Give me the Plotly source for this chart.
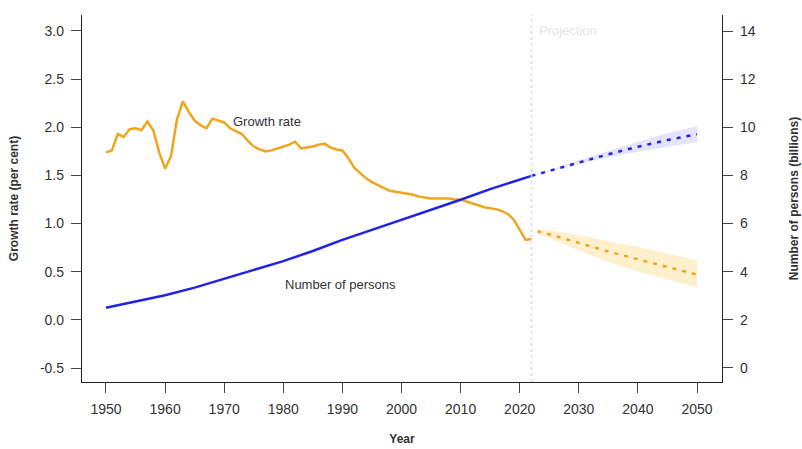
import plotly.graph_objects as go

# ---------------- data ----------------
years_hist = list(range(1950, 2023))
growth_hist = [1.74, 1.76, 1.93, 1.90, 1.98, 1.99, 1.97, 2.06, 1.97, 1.74,
               1.57, 1.70, 2.08, 2.27, 2.16, 2.07, 2.02, 1.99, 2.09, 2.07,
               2.05, 1.99, 1.96, 1.93, 1.86, 1.80, 1.77, 1.75, 1.76, 1.78,
               1.80, 1.82, 1.85, 1.78, 1.79, 1.80, 1.82, 1.83, 1.79, 1.77,
               1.76, 1.68, 1.58, 1.53, 1.47, 1.43, 1.40, 1.37, 1.34, 1.33,
               1.32, 1.31, 1.30, 1.28, 1.27, 1.26, 1.26, 1.26, 1.26, 1.25,
               1.25, 1.23, 1.21, 1.19, 1.17, 1.16, 1.15, 1.13, 1.10, 1.04,
               0.93, 0.83, 0.84]

years_proj_g = [2023, 2025, 2030, 2035, 2040, 2045, 2050]
growth_proj = [0.92, 0.89, 0.80, 0.71, 0.63, 0.55, 0.47]
growth_lo = [0.90, 0.85, 0.72, 0.60, 0.50, 0.42, 0.34]
growth_hi = [0.94, 0.93, 0.88, 0.82, 0.76, 0.69, 0.62]

years_pop = [1950, 1955, 1960, 1965, 1970, 1975, 1980, 1985, 1990, 1995,
             2000, 2005, 2010, 2015, 2020, 2022]
pop_hist = [2.50, 2.75, 3.02, 3.34, 3.70, 4.07, 4.44, 4.86, 5.32, 5.74,
            6.15, 6.56, 6.99, 7.43, 7.84, 7.98]

years_proj_p = [2022, 2025, 2030, 2035, 2040, 2045, 2050]
pop_proj = [7.98, 8.19, 8.55, 8.88, 9.19, 9.47, 9.71]
pop_lo = [7.98, 8.17, 8.47, 8.74, 8.98, 9.18, 9.38]
pop_hi = [7.98, 8.21, 8.63, 9.02, 9.40, 9.76, 10.04]

x_ticks = list(range(1950, 2051, 10))
y1_ticks = [-0.5, 0.0, 0.5, 1.0, 1.5, 2.0, 2.5, 3.0]
y2_ticks = [0, 2, 4, 6, 8, 10, 12, 14]
projection_start = 2022

ORANGE = "#F0A51E"
BLUE = "#2222E6"
FONT = "Liberation Sans, Arial, sans-serif"
TXT = "#333333"

fig = go.Figure()

# orange projection band
fig.add_trace(go.Scatter(x=years_proj_g + years_proj_g[::-1],
                         y=growth_hi + growth_lo[::-1], mode="none",
                         fill="toself", fillcolor="rgba(255,205,90,0.30)",
                         hoverinfo="skip", showlegend=False))
# blue projection band
fig.add_trace(go.Scatter(x=years_proj_p + years_proj_p[::-1],
                         y=pop_hi + pop_lo[::-1], yaxis="y2", mode="none",
                         fill="toself", fillcolor="rgba(120,120,255,0.20)",
                         hoverinfo="skip", showlegend=False))

fig.add_trace(go.Scatter(x=years_hist, y=growth_hist, mode="lines",
                         line=dict(color=ORANGE, width=2.5), showlegend=False))
fig.add_trace(go.Scatter(x=years_proj_g, y=growth_proj, mode="lines",
                         line=dict(color=ORANGE, width=2.5, dash="4px,6px"),
                         showlegend=False))
fig.add_trace(go.Scatter(x=years_pop, y=pop_hist, mode="lines", yaxis="y2",
                         line=dict(color=BLUE, width=2.5), showlegend=False))
fig.add_trace(go.Scatter(x=years_proj_p, y=pop_proj, mode="lines", yaxis="y2",
                         line=dict(color=BLUE, width=2.5, dash="4px,6px"),
                         showlegend=False))

fig.add_shape(type="line", xref="x", yref="paper", x0=projection_start,
              x1=projection_start, y0=0, y1=1,
              line=dict(color="#DDDDDD", width=1.5, dash="dot"))

fig.add_annotation(x=projection_start + 0.9, y=3.0, xref="x", yref="y",
                   text="Projection", showarrow=False, xanchor="left",
                   font=dict(family=FONT, size=13, color="#E6E6E6"))
fig.add_annotation(x=1977.3, y=2.06, xref="x", yref="y", text="Growth rate",
                   showarrow=False, font=dict(family=FONT, size=13, color=TXT))
fig.add_annotation(x=1989.6, y=0.37, xref="x", yref="y", text="Number of persons",
                   showarrow=False, font=dict(family=FONT, size=13, color=TXT))

axis_common = dict(showline=True, linecolor="#222222", linewidth=1.3,
                   ticks="outside", ticklen=10, tickcolor="#444444",
                   tickwidth=1.3, showgrid=False, zeroline=False,
                   ticklabelstandoff=4, automargin=False,
                   tickfont=dict(family=FONT, size=14, color=TXT))

fig.update_layout(
    width=802, height=449,
    margin=dict(l=82, r=80, t=15, b=67),
    paper_bgcolor="white", plot_bgcolor="white",
    xaxis=dict(range=[1945.94, 2054.23], tickvals=x_ticks,
               title=dict(text="<b>Year</b>", standoff=18,
                          font=dict(family=FONT, size=12, color=TXT)),
               **axis_common),
    yaxis=dict(range=[-0.645, 3.166], tickvals=y1_ticks,
               ticktext=[f"{v:.1f}" for v in y1_ticks],
               title=dict(text="<b>Growth rate (per cent)</b>", standoff=18,
                          font=dict(family=FONT, size=12, color=TXT)),
               **axis_common),
    yaxis2=dict(range=[-0.582, 14.665], tickvals=y2_ticks, overlaying="y",
                side="right",
                title=dict(text="<b>Number of persons (billions)</b>", standoff=34,
                           font=dict(family=FONT, size=12, color=TXT)),
                **axis_common),
)

fig.write_html("out.html")
